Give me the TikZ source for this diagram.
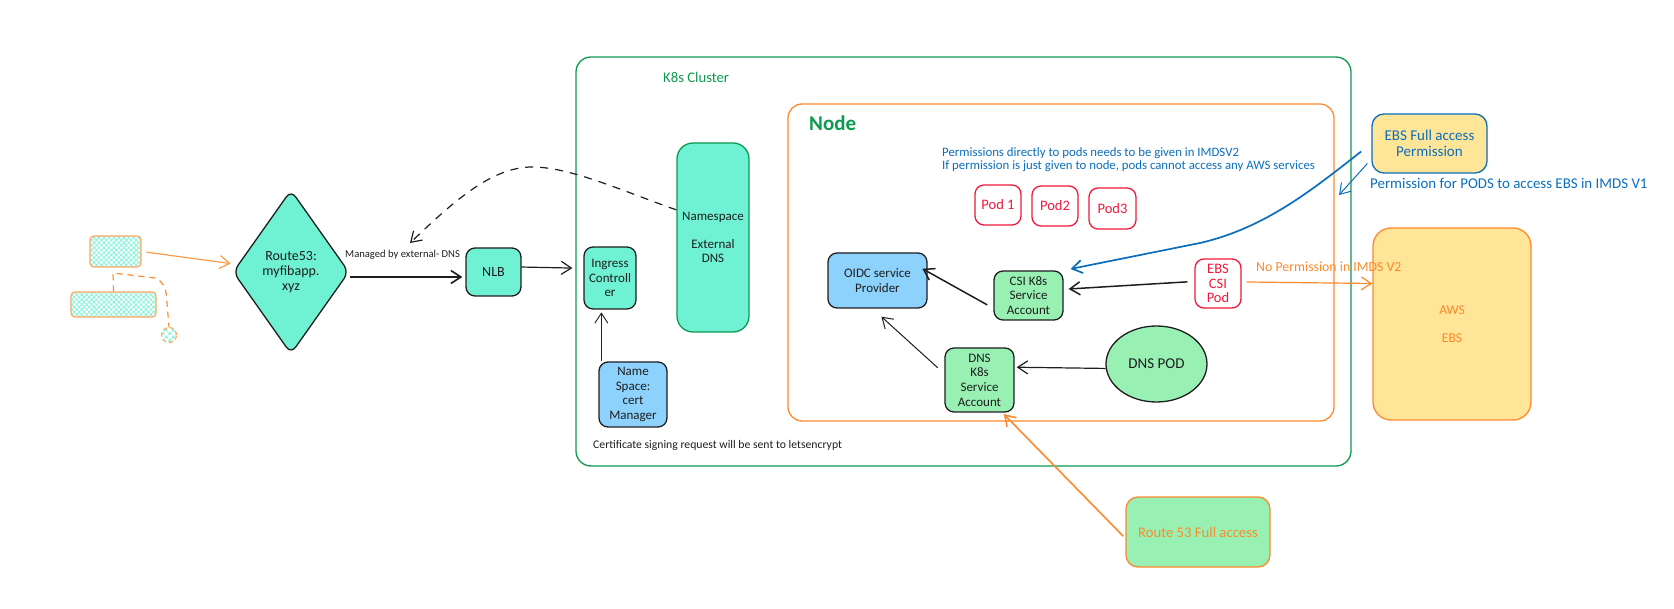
\documentclass[tikz,border=0pt]{standalone}
\usepackage{fontspec}
\setmainfont{Carlito}
\usetikzlibrary{arrows.meta,patterns.meta,shapes.geometric}
\definecolor{tealfill}{HTML}{6FF2D3}
\definecolor{greenfill}{HTML}{99F0B3}
\definecolor{bluefill}{HTML}{8DD2FD}
\definecolor{yellowfill}{HTML}{FFE598}
\definecolor{greenline}{HTML}{0C9A50}
\definecolor{orangeline}{HTML}{FD8A2C}
\definecolor{blueline}{HTML}{0A6EBD}
\definecolor{redline}{HTML}{F0193C}
\definecolor{inkline}{HTML}{1E1E1E}
\tikzset{
    box/.style={draw=inkline,line width=1.3pt,rounded corners=9pt,minimum size=0pt,inner sep=0,anchor=center,align=center,text=inkline,font=\fontsize{13}{14.6}\selectfont},
    tealbox/.style={box,fill=tealfill},
    greenbox/.style={box,fill=greenfill},
    bluebox/.style={box,fill=bluefill},
    podbox/.style={box,draw=redline,text=redline,font=\fontsize{14.5}{14.6}\selectfont},
    hatched/.style={draw=orangeline!75,line width=1.2pt,rounded corners=4pt,inner sep=0,pattern={Hatch[distance=3.5pt,angle=45,line width=.8pt]},pattern color=tealfill!85},
    note/.style={inner sep=0,anchor=west,font=\fontsize{12.8}{13.2}\selectfont},
    link/.style={draw=inkline,line width=1.2pt,-{Straight Barb[length=10pt,width=13pt]}},
    dashlink/.style={dash pattern=on 8pt off 7pt},
}
\begin{document}
\begin{tikzpicture}[x=1pt,y=-1pt]
    \useasboundingbox (0,0) rectangle (1674,609);
    \node[draw=greenline,line width=1.3pt,rounded corners=15pt,minimum width=775pt,minimum height=409pt,inner sep=0] (cluster) at (963.5,261.5) {};
    \node[draw=orangeline,line width=1.3pt,rounded corners=14pt,minimum width=546pt,minimum height=317pt,inner sep=0] (nodearea) at (1061,262.5) {};
    \node[note,text=greenline,font=\fontsize{14.7}{16}\selectfont] (clusterlabel) at (663,77) {K8s Cluster};
    \node[note,text=greenline,font=\fontsize{21}{24}\bfseries\selectfont] (nodelabel) at (809,123) {Node};

    \node[hatched,minimum width=51pt,minimum height=31pt] (userbox) at (115.5,251.5) {};
    \node[hatched,minimum width=85pt,minimum height=25pt] (groupbox) at (113.5,304.5) {};
    \node[hatched,circle,dash pattern=on 4pt off 3pt,pattern={Hatch[distance=5pt,angle=45,line width=.9pt]},minimum size=15pt] (userdot) at (169,335) {};
    \coordinate (dashturn) at (113,273);

    \node[tealbox,diamond,rounded corners=8pt,font=\fontsize{14}{14.8}\selectfont,minimum width=116pt,minimum height=164pt] (routefiftythree) at (291,272) {Route53:\\myfibapp.\\xyz};
    \node[tealbox,font=\fontsize{14}{14.8}\selectfont,minimum width=55pt,minimum height=48pt] (nlb) at (493.5,272) {NLB};
    \node[tealbox,minimum width=52pt,minimum height=62pt] (ingress) at (610,278) {Ingress\\Controll\\er};
    \node[tealbox,draw=greenline,rounded corners=16pt,minimum width=72pt,minimum height=189pt] (externaldns) at (713,237.5) {Namespace\\[13pt]External\\DNS};
    \node[bluebox,minimum width=68pt,minimum height=65pt] (certmanager) at (633,394.5) {Name\\Space:\\cert\\Manager};

    \node[note,text=inkline,font=\fontsize{10.6}{13}\selectfont] (managedlabel) at (345,255) {Managed by external- DNS};
    \node[note,text=inkline,font=\fontsize{11.7}{13}\selectfont] (certlabel) at (593,445) {Certificate signing request will be sent to letsencrypt};

    \node[note,text=blueline,align=left] (permnote) at (942,159.5) {Permissions directly to pods needs to be given in IMDSV2\\If permission is just given to node, pods cannot access any AWS services};
    \node[podbox,minimum width=46pt,minimum height=40pt] (podone) at (998,205) {Pod 1};
    \node[podbox,minimum width=46pt,minimum height=40pt] (podtwo) at (1055,206) {Pod2};
    \node[podbox,minimum width=47pt,minimum height=41pt] (podthree) at (1112.5,208.5) {Pod3};

    \node[bluebox,minimum width=99pt,minimum height=55pt] (oidc) at (877.5,280.5) {OIDC service\\Provider};
    \node[greenbox,minimum width=69pt,minimum height=49pt] (csiaccount) at (1028.5,295.5) {CSI K8s\\Service\\Account};
    \node[greenbox,minimum width=69pt,minimum height=64pt] (dnsaccount) at (979.5,380) {DNS\\K8s\\Service\\Account};
    \node[podbox,minimum width=46pt,minimum height=49pt] (ebspod) at (1218,283.5) {EBS\\CSI\\Pod};
    \node[greenbox,ellipse,font=\fontsize{15}{16}\selectfont,minimum width=101pt,minimum height=76pt] (dnspod) at (1156.5,364) {DNS POD};

    \node[box,draw=blueline,text=blueline,fill=yellowfill,rounded corners=12pt,font=\fontsize{15}{16}\selectfont,minimum width=115pt,minimum height=59pt] (ebsperm) at (1429.5,143.5) {EBS Full access\\Permission};
    \coordinate (ebstip) at (1339,195);
    \node[note,text=blueline,font=\fontsize{14.9}{16}\selectfont] (podsnote) at (1370,183) {Permission for PODS to access EBS in IMDS V1};
    \node[box,draw=orangeline,text=orangeline,fill=yellowfill,rounded corners=18pt,font=\fontsize{13.5}{14.6}\selectfont,minimum width=158pt,minimum height=192pt] (aws) at (1452,324) {AWS\\[13pt]EBS};
    \node[note,text=orangeline,font=\fontsize{13.8}{15}\selectfont] (nopermnote) at (1256,267) {No Permission in IMDS V2};
    \node[box,draw=orangeline,text=orangeline,fill=greenfill,rounded corners=12pt,font=\fontsize{14.7}{16}\selectfont,minimum width=144pt,minimum height=70pt] (routeperm) at (1198,532) {Route 53 Full access};

    \draw[link,draw=orangeline!85,shorten <=5pt,shorten >=7pt] (userbox.east) -- (routefiftythree.172);
    \draw[draw=orangeline,line width=1.2pt,dash pattern=on 6pt off 5pt] (groupbox.north) -- (dashturn) -- (155,278) .. controls (163,281) and (166,288) .. (166.5,297) -- (userdot.north);
    \draw[link,line width=1.6pt,shorten >=3pt] ([yshift=-5pt]routefiftythree.east) -- ([yshift=-5pt]routefiftythree.east -| nlb.west);
    \draw[link,shorten >=11pt] (nlb.10) -- (ingress.160);
    \draw[link,line width=.9pt] ([xshift=3pt]certmanager.north west) -- ([xshift=3pt,yshift=49pt]certmanager.north west);
    \draw[link,dashlink] (externaldns.143) .. controls (620,190) and (570,167) .. (532,167) .. controls (490,167) and (450,205) .. (410,243);

    \draw[link,line width=1.5pt,shorten <=7pt,shorten >=-6pt] (csiaccount.200) -- (oidc.10);
    \draw[link,line width=1.5pt,shorten <=7pt,shorten >=5pt] (ebspod.175) -- (csiaccount.10);
    \draw[link,shorten >=2pt] (dnspod.185) -- (dnsaccount.20);
    \draw[link,line width=1pt,shorten <=9pt,shorten >=12pt] (dnsaccount.170) -- (oidc.260);

    \draw[link,draw=blueline,line width=1.7pt,shorten <=13pt,shorten >=7pt] (ebsperm.west) .. controls (1312,190) and (1265,228) .. (1200,243) -- (csiaccount.north east);
    \draw[link,draw=blueline,line width=1pt,shorten <=6pt] (ebsperm.195) -- (ebstip);
    \draw[link,draw=orangeline] (ebspod.east) ++(5,-1.5) -- (aws.west |- ebspod.east);
    \draw[link,draw=orangeline,line width=1.6pt,shorten <=3pt,shorten >=2pt] (routeperm.185) -- (dnsaccount.-55);
\end{tikzpicture}
\end{document}
